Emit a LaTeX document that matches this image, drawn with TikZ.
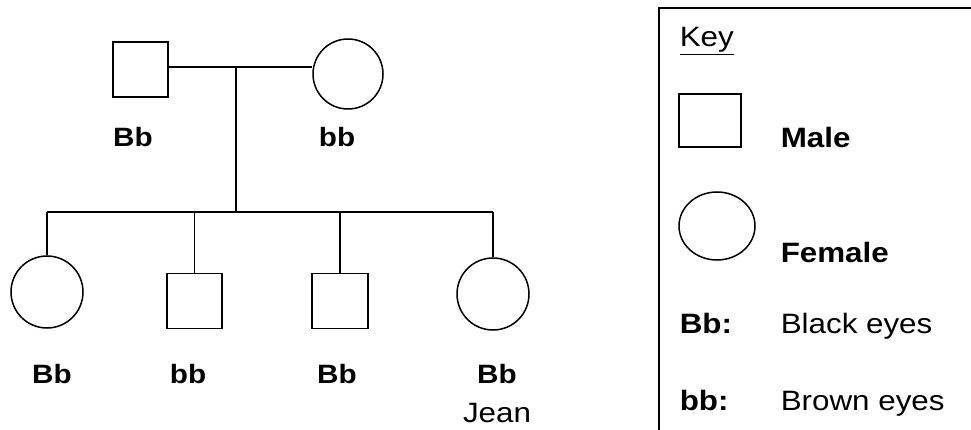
\documentclass[tikz,border=0pt]{standalone}
\usepackage{fontspec}
\setmainfont{Liberation Sans}[FakeStretch=1.12]
\usetikzlibrary{shapes.geometric}
\begin{document}
\begin{tikzpicture}[x=1pt,y=-1pt,line width=1.5pt,
  male/.style={draw,rectangle,minimum width=55pt,minimum height=55pt,inner sep=0pt},
  female/.style={draw,circle,minimum size=72pt,inner sep=0pt},
  geno/.style={anchor=base,font=\fontsize{26.5}{30}\selectfont\bfseries,inner sep=0pt},
  keytxt/.style={anchor=base west,font=\fontsize{28}{32}\selectfont,inner sep=0pt},
  keybold/.style={anchor=base west,font=\fontsize{28}{32}\selectfont\bfseries,inner sep=0pt}]
\useasboundingbox (0,0) rectangle (971,430);
% parents
\node[male] (father) at (140.5,69.5) {};
\node[female,minimum size=70pt] (mother) at (348,74) {};
\coordinate (m) at (236,67);
\coordinate (s) at (236,212);
\draw (father.east |- m) -- (mother.west |- m);
\draw (m) -- (s);
\node[geno] (gf) at (133,147) {Bb};
\node[geno] (gm) at (337,147) {bb};
% children
\node[female] (c1) at (47,292) {};
\node[male] (c2) at (194.25,301) {};
\node[male,minimum width=56pt] (c3) at (340,301) {};
\node[female] (c4) at (493,294) {};
\draw (c1 |- s) -- (c4 |- s);
\foreach \c in {c1,c2,c3,c4} \draw (\c |- s) -- (\c.north);
\node[geno] (g1) at (52,383) {Bb};
\node[geno] (g2) at (188,383) {bb};
\node[geno] (g3) at (337,383) {Bb};
\node[geno] (g4) at (497,383) {Bb};
\node[anchor=base,font=\fontsize{28}{32}\selectfont,inner sep=0pt] (jean) at (497,422) {Jean};
% key
\draw (971,8) -- (659,8) -- (659,430);
\node[keytxt] (key) at (679,47) {\underline{Key}};
\node[male,minimum width=62pt,minimum height=53pt] (kmale) at (710,120.5) {};
\node[keybold] (lmale) at (780,148) {Male};
\node[draw,ellipse,minimum width=76pt,minimum height=68pt,inner sep=0pt] (kfemale) at (717,226) {};
\node[keybold] (lfemale) at (780,262) {Female};
\node[keybold] (kB) at (679,333) {Bb:};
\node[keytxt] (kBt) at (780,333) {Black eyes};
\node[keybold] (kb) at (679,410) {bb:};
\node[keytxt] (kbt) at (780,410) {Brown eyes};
\end{tikzpicture}
\end{document}
